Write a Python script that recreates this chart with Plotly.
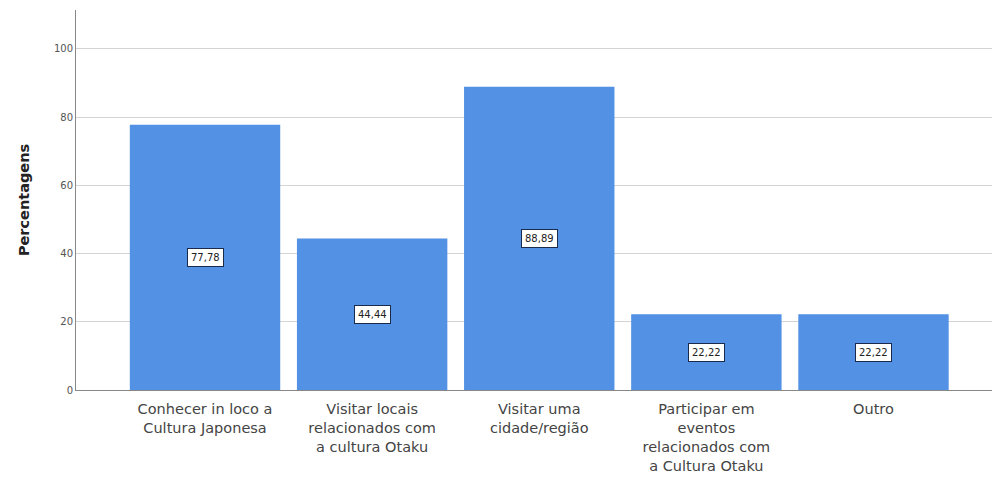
import plotly.graph_objects as go

categories = [
    "Conhecer in loco a<br>Cultura Japonesa",
    "Visitar locais<br>relacionados com<br>a cultura Otaku",
    "Visitar uma<br>cidade/região",
    "Participar em<br>eventos<br>relacionados com<br>a Cultura Otaku",
    "Outro",
]
values = [77.78, 44.44, 88.89, 22.22, 22.22]
labels = ["77,78", "44,44", "88,89", "22,22", "22,22"]
y_ticks = [0, 20, 40, 60, 80, 100]

fig = go.Figure()
fig.add_trace(go.Bar(
    x=list(range(len(categories))),
    y=values,
    marker=dict(color="#5291E3", line=dict(width=0)),
    width=0.9,
    hoverinfo="skip",
))

for i, (v, t) in enumerate(zip(values, labels)):
    fig.add_annotation(
        x=i, y=v / 2, text=t, showarrow=False,
        font=dict(family="DejaVu Sans", size=10, color="#222222"),
        bgcolor="white", bordercolor="#1a2a4a", borderwidth=1, borderpad=3,
    )

# page body has an 8px margin; figure is sized to fit the visible window
fig.update_layout(
    width=992, height=470,
    margin=dict(l=68, r=0, t=2, b=88),
    paper_bgcolor="white", plot_bgcolor="white",
    showlegend=False,
    font=dict(family="DejaVu Sans", color="#444444"),
    xaxis=dict(
        tickmode="array", tickvals=list(range(len(categories))), ticktext=categories,
        range=[-0.772, 4.757],
        showline=True, linecolor="#888888", linewidth=1,
        showgrid=False, ticks="", tickfont=dict(size=14.5, color="#444444"),
        ticklabelstandoff=6,
        automargin=False,
    ),
    yaxis=dict(
        range=[0, 111.4],
        tickmode="array", tickvals=y_ticks,
        showline=True, linecolor="#888888", linewidth=1,
        showgrid=True, gridcolor="#d4d4d4", gridwidth=1,
        ticks="", tickfont=dict(size=10, color="#555555"),
        title=dict(text="<b>Percentagens</b>", font=dict(size=14.5, color="#222222"), standoff=20),
        zeroline=False, automargin=False,
    ),
)

fig.write_html("out.html")
